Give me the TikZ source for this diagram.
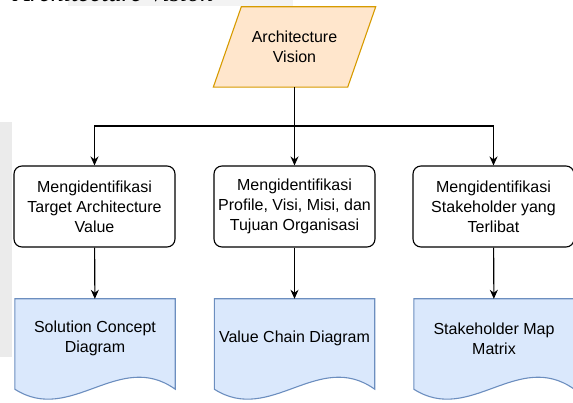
\documentclass[tikz,border=0pt]{standalone}
\usepackage{fontspec}
\setmainfont{Liberation Sans}
\newfontfamily\capfont{Liberation Serif}
\usetikzlibrary{
    arrows.meta,
    backgrounds,
    calc,
    positioning
}
\definecolor{visfill}{HTML}{FFE6CC}
\definecolor{visdraw}{HTML}{D79B00}
\definecolor{docfill}{HTML}{DAE8FC}
\definecolor{docdraw}{HTML}{6C8EBF}
\definecolor{stripgray}{HTML}{EBEBEB}
\definecolor{topgray}{HTML}{F3F3F3}

\tikzset{
    vis/.style={rectangle, minimum width=134pt, minimum height=80pt,
        align=center, inner sep=0pt},
    proc/.style={rectangle, rounded corners=8pt, draw, line width=1.1pt, minimum width=161pt,
        minimum height=81pt, align=center, inner sep=0pt},
    docu/.style={rectangle, minimum width=160pt, minimum height=79pt,
        align=center, inner sep=0pt},
    arr/.style={line width=1.1pt, -{Stealth[length=9pt, width=8pt]}}
}

\begin{document}
\begin{tikzpicture}[x=1pt, y=-1pt, font=\fontsize{16}{20}\selectfont]
    \useasboundingbox (0,0) rectangle (573,403);
    % screenshot leftovers
    \fill[topgray] (68,0) rectangle (293,6);
    \fill[stripgray] (0,122) rectangle (12,357);
    \begin{scope}
        \clip (0,0) rectangle (573,6);
        \node[anchor=base west, inner sep=0pt, font=\capfont\itshape\fontsize{26}{30}\selectfont]
            (cap) at (14,2) {Architecture Vision};
    \end{scope}

    \node[vis] (av) at (294.5,47) {Architecture\\Vision};

    \node[proc] (tav) at (94.5,206.5) {Mengidentifikasi\\Target Architecture\\Value};
    \node[proc] (pvm) at (294.5,206.5) {Mengidentifikasi\\Profile, Visi, Misi, dan\\Tujuan Organisasi};
    \node[proc] (stk) at (493.5,206.5) {Mengidentifikasi\\Stakeholder yang\\Terlibat};

    \node[docu] (scd) at (95,338.5) {Solution Concept\\Diagram};
    \node[docu] (vcd) at (294.5,338.5) {Value Chain Diagram};
    \node[docu] (smm) at (494,338.5) {Stakeholder Map\\Matrix};

    \begin{scope}[on background layer]
        % slanted input box
        \filldraw[fill=visfill, draw=visdraw, line width=1.1pt]
            ($(av.south west)+(-14pt,0pt)$) -- ($(av.north west)+(14pt,0pt)$)
            -- ($(av.north east)+(14pt,0pt)$) -- ($(av.south east)+(-14pt,0pt)$) -- cycle;
        % wavy document outlines
        \foreach \d in {scd,vcd,smm}{
            \filldraw[fill=docfill, draw=docdraw, line width=1.1pt]
                ($(\d.south west)+(0pt,-11pt)$) -- (\d.north west) -- (\d.north east)
                -- ($(\d.south east)+(0pt,-11pt)$)
                .. controls ($(\d.south east)!0.35!(\d.south west)+(0pt,29pt)$)
                and ($(\d.south east)!0.65!(\d.south west)+(0pt,-47pt)$)
                .. ($(\d.south west)+(0pt,-11pt)$) -- cycle;
        }
    \end{scope}

    \coordinate (split) at (294.5,126);
    \draw[line width=1.1pt] (av.south) -- (split);
    \draw[arr] (split) -| (tav.north);
    \draw[arr] (split) -- (pvm.north);
    \draw[arr] (split) -| (stk.north);

    \draw[arr] (tav) -- (scd);
    \draw[arr] (pvm) -- (vcd);
    \draw[arr] (stk) -- (smm);
\end{tikzpicture}
\end{document}
